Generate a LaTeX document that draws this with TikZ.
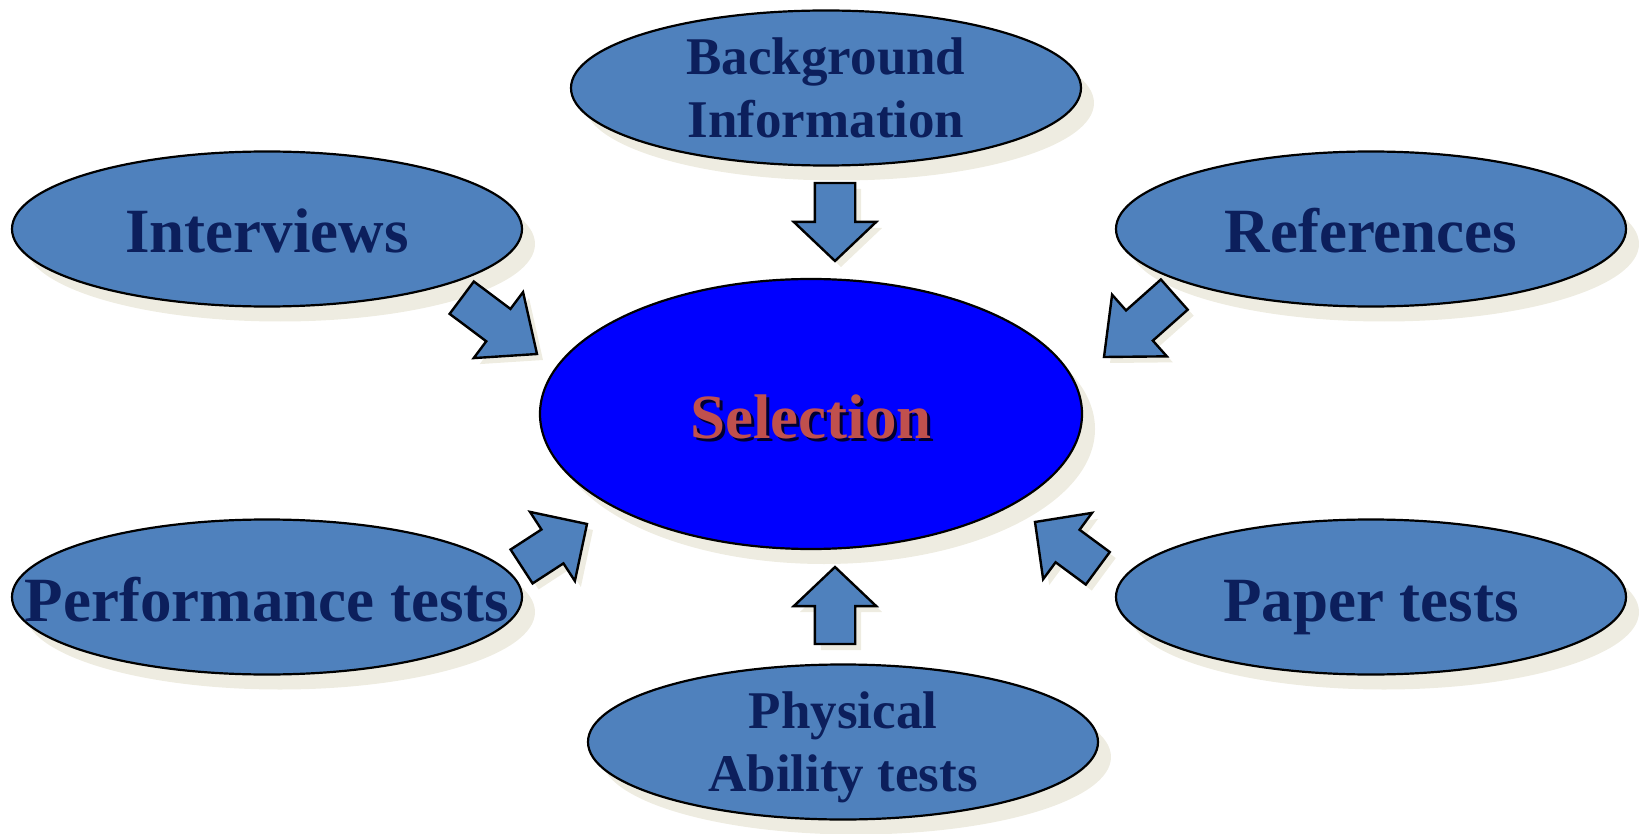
\documentclass[tikz,border=0pt]{standalone}
\usepackage{fontspec}
\setmainfont{Liberation Serif}
\usetikzlibrary{shapes.geometric,shapes.arrows,shadows}

\definecolor{ovalblue}{HTML}{4F81BD}
\definecolor{coreblue}{HTML}{0000FF}
\definecolor{labelnavy}{RGB}{12,31,92}
\definecolor{corered}{HTML}{C0504D}
\definecolor{shadowtan}{HTML}{EEECE1}

\newcommand{\shadowlabel}[1]{\rlap{\kern3pt\raisebox{-3pt}{\color{black!80!blue}#1}}#1}

\begin{document}
\begin{tikzpicture}[x=1pt, y=-1pt,
    oval/.style={ellipse, draw, line width=2.2pt, fill=ovalblue,
      minimum width=510pt, minimum height=155pt, inner sep=0pt,
      text=labelnavy, align=center,
      drop shadow={shadow xshift=13pt, shadow yshift=-15pt, fill=shadowtan, opacity=1}},
    bigtxt/.style={font=\fontsize{63}{70}\selectfont\bfseries,
      text height=48pt, text depth=0pt},
    smalltxt/.style={font=\fontsize{53}{63}\selectfont\bfseries,
      text depth=0pt},
    tight/.style={inner xsep=-150pt},
    fat arrow/.style={single arrow, draw, line width=2.4pt, fill=ovalblue,
      inner sep=0pt, outer sep=0pt, inner ysep=19pt,
      single arrow head extend=21pt, anchor=tip,
      drop shadow={shadow xshift=6pt, shadow yshift=-6pt, fill=shadowtan, opacity=1}}
    ]
  \useasboundingbox (0,0) rectangle (1649,834);

  % outer ovals
  \node (bg) [oval, smalltxt] at (826,88) {Background\\Information};
  \node (iv) [oval, bigtxt] at (267,229) {Interviews};
  \node (rf) [oval, bigtxt] at (1371,229) {References};
  \node (pf) [oval, bigtxt, tight] at (267,597) {Performance tests};
  \node (pp) [oval, bigtxt] at (1371,597) {Paper tests};
  \node (ph) [oval, smalltxt] at (843,742) {Physical\\Ability tests};

  % centre
  \node (sel) [oval, bigtxt, fill=coreblue, text=corered,
               minimum width=542pt, minimum height=270pt] at (811,414) {\shadowlabel{Selection}};

  % block arrows, tip first
  \node (bg-arrow) [fat arrow, minimum height=78pt, single arrow tip angle=93, rotate=-90] at (835,261) {};
  \node (ph-arrow) [fat arrow, minimum height=77pt, single arrow tip angle=93, rotate=90] at (835,567) {};
  \node (iv-arrow) [fat arrow, minimum height=94pt, single arrow tip angle=81, rotate=-36.8] at (537,354) {};
  \node (rf-arrow) [fat arrow, minimum height=94pt, single arrow tip angle=82, rotate=-138.4] at (1104,357) {};
  \node (pf-arrow) [fat arrow, minimum height=78pt, single arrow tip angle=90, rotate=33] at (587,524) {};
  \node (pp-arrow) [fat arrow, minimum height=78pt, single arrow tip angle=91, rotate=143.6] at (1035,522) {};
\end{tikzpicture}
\end{document}
